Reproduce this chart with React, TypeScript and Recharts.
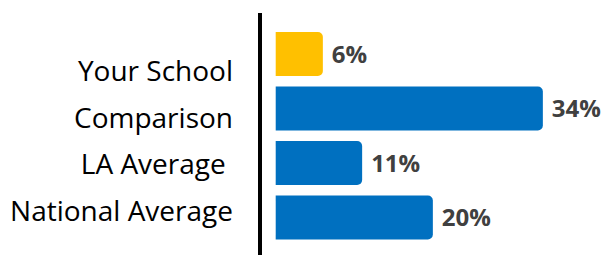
import { Bar, BarChart, Cell, LabelList, XAxis, YAxis } from "recharts";

const categories = ["Your School", "Comparison", "LA Average ", "National Average"];
const percentages = [6, 34, 11, 20];
const barColors = ["#FFC000", "#0070C0", "#0070C0", "#0070C0"];

const data = categories.map((name, i) => ({
	name,
	value: percentages[i],
}));

// the category text sits a little tighter than the bars in the original
function CategoryTick(props: any) {
	const { x, y, payload } = props;
	const labelY = 140 + (y - 136) * 0.86;
	return (
		<text
			x={x}
			y={labelY}
			textAnchor="end"
			dominantBaseline="central"
			fontFamily="'Open Sans', sans-serif"
			fontSize={28}
			fill="#000000"
			style={{ whiteSpace: "pre" }}
		>
			{payload.value}
		</text>
	);
}

export default function App() {
	return (
		<>
			<style>{"body{margin:0}"}</style>
			<BarChart
				width={603}
				height={255}
				data={data}
				layout="vertical"
				margin={{ top: 13, right: 13, bottom: 0, left: 0 }}
			>
				<XAxis
					type="number"
					domain={[-2, 40]}
					hide
				/>
				<YAxis
					type="category"
					dataKey="name"
					width={260}
					padding={{ top: 14, bottom: 10 }}
					axisLine={{ stroke: "#000000", strokeWidth: 4 }}
					tickLine={false}
					tickSize={0}
					tickMargin={27}
					tick={<CategoryTick />}
				/>
				<Bar
					dataKey="value"
					barSize={44}
					radius={[0, 5, 5, 0]}
					isAnimationActive={false}
				>
					{data.map((entry, i) => (
						<Cell
							key={entry.name}
							fill={barColors[i]}
						/>
					))}
					<LabelList
						dataKey="value"
						position="right"
						offset={9}
						formatter={(v: any) => `${v}%`}
						fill="#404040"
						fontFamily="'Open Sans', sans-serif"
						fontWeight="bold"
						fontSize={24}
					/>
				</Bar>
			</BarChart>
		</>
	);
}
